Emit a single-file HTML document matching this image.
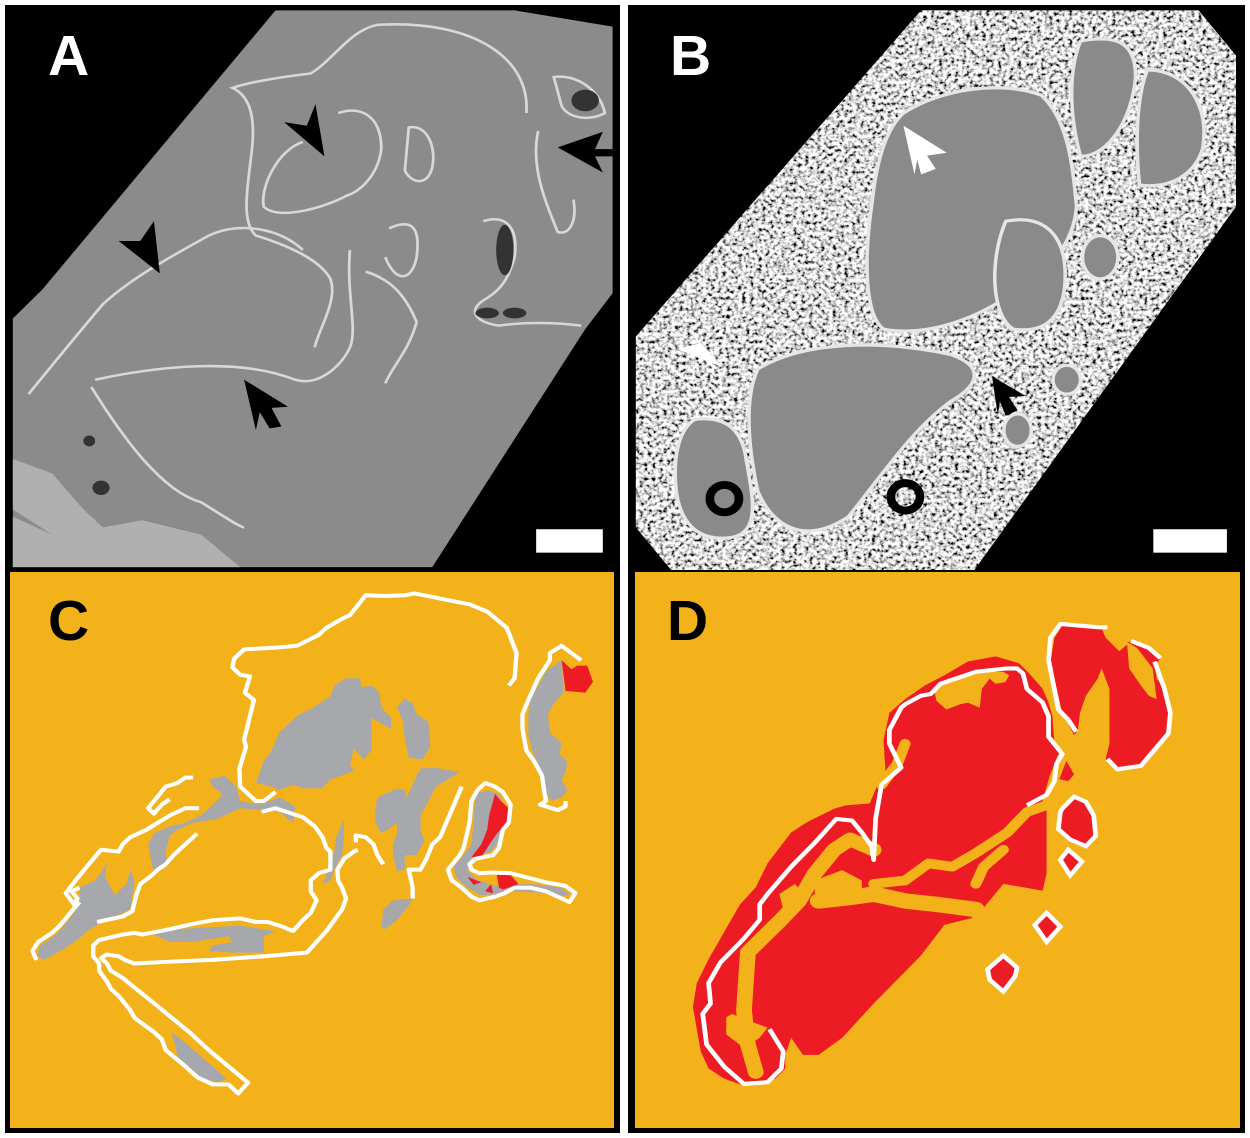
<!DOCTYPE html>
<html><head><meta charset="utf-8"><style>
html,body{margin:0;padding:0;background:#fff;}
svg{display:block;}
text{font-family:"Liberation Sans",Arial,sans-serif;font-weight:bold;}
</style></head><body>
<svg width="1250" height="1138" viewBox="0 0 1250 1138">
<defs>
<filter id="spk" x="0" y="0" width="1" height="1" filterUnits="objectBoundingBox">
<feTurbulence type="fractalNoise" baseFrequency="0.1" numOctaves="2" seed="5" result="n"/>
<feColorMatrix in="n" type="matrix" values="3 0 0 0 -0.8  3 0 0 0 -0.8  3 0 0 0 -0.8  0 0 0 0 1" result="g"/>
<feComposite in="g" in2="SourceGraphic" operator="in"/>
</filter>
</defs>

<rect x="5" y="5" width="615" height="1128" fill="#000"/>
<rect x="628" y="5" width="617" height="1128" fill="#000"/>

<!-- Panel A -->
<g transform="translate(5,5) scale(0.392,0.3603)">
<polygon points="690,15 1300,15 1550,60 1550,800 1480,900 1090,1560 20,1560 20,870 95,790" fill="#8b8b8b"/>
<polygon points="20,1260 120,1300 200,1400 250,1450 350,1430 500,1470 600,1560 20,1560 20,1420 120,1470 20,1400" fill="#b0b0b0"/>
<g fill="none" stroke="#d8d8d8" stroke-width="7">
<path d="M1330,300 C1340,150 1200,40 950,55 C880,70 840,150 780,190 C700,200 620,215 580,230 C620,250 640,300 630,400 C620,500 600,600 640,640 C700,660 800,700 830,760 C850,820 800,900 790,950"/>
<path d="M60,1080 C120,1000 180,920 250,830 C320,760 420,700 520,640 C600,600 700,620 760,680"/>
<path d="M220,1060 C300,1200 400,1350 500,1380 C560,1420 600,1450 610,1450"/>
<path d="M230,1040 C400,1000 600,980 740,1040 C800,1060 860,1000 880,950 C900,900 870,800 880,680"/>
<path d="M1400,200 C1460,190 1520,240 1530,300 C1500,320 1440,320 1420,280 Z"/>
<path d="M1360,350 C1340,450 1380,550 1410,630 C1440,640 1460,600 1450,540"/>
<path d="M1220,600 C1280,580 1310,620 1300,700 C1280,780 1250,800 1220,820 C1180,850 1200,880 1260,890 C1320,880 1400,880 1470,890"/>
<path d="M850,300 C900,280 960,300 960,400 C950,480 900,520 870,530 C820,560 700,600 660,560 C650,500 700,400 760,380"/>
<path d="M1030,340 C1080,330 1100,400 1090,450 C1080,500 1040,500 1020,460 Z"/>
<path d="M980,620 C1040,590 1060,620 1050,700 C1040,760 1000,780 970,700"/>
<path d="M920,740 C980,760 1020,800 1050,880 C1030,960 990,1000 970,1050"/>
</g>
<g fill="#333">
<ellipse cx="1480" cy="265" rx="35" ry="30"/>
<ellipse cx="1275" cy="680" rx="22" ry="70"/>
<ellipse cx="1230" cy="855" rx="30" ry="15"/>
<ellipse cx="1300" cy="855" rx="30" ry="15"/>
<ellipse cx="215" cy="1210" rx="15" ry="15"/>
<ellipse cx="245" cy="1340" rx="22" ry="20"/>
</g>
<g fill="#000">
<polygon points="815,420 712,325 770,335 792,275"/>
<polygon points="395,745 290,655 345,655 380,600"/>
<polygon points="1410,395 1525,352 1505,400 1550,400 1550,420 1505,420 1525,465"/>
<polygon points="610,1040 722,1115 680,1118 705,1170 675,1175 650,1130 640,1180"/>
</g>
<rect x="1355" y="1455" width="170" height="65" fill="#fff"/>
</g>
<text x="48" y="75" font-size="57" fill="#fff">A</text>

<!-- Panel B -->
<g transform="translate(628,5) scale(0.3935,0.3603)">
<polygon points="745,15 1450,15 1545,140 1545,560 880,1568 110,1568 20,1450 20,920" fill="#888"/>
<polygon points="745,15 1450,15 1545,140 1545,560 880,1568 110,1568 20,1450 20,920" fill="#fff" filter="url(#spk)"/>
<g fill="#8a8a8a" stroke="#e6e6e6" stroke-width="9">
<path d="M700,300 C800,230 950,210 1050,250 C1120,320 1130,450 1140,560 C1130,680 1050,760 950,820 C860,880 750,920 650,900 C600,860 600,700 620,550 C630,450 650,350 700,300 Z"/>
<path d="M330,1010 C450,930 650,930 820,970 C900,1000 900,1050 820,1100 C720,1180 650,1300 560,1420 C450,1500 370,1450 330,1350 C300,1200 300,1080 330,1010 Z"/>
<path d="M1150,100 C1250,80 1290,110 1290,200 C1280,320 1220,420 1150,420 C1120,300 1120,180 1150,100 Z"/>
<path d="M1320,180 C1420,180 1480,280 1460,400 C1440,470 1380,510 1300,500 C1290,400 1290,260 1320,180 Z"/>
<path d="M170,1150 C250,1140 290,1180 300,1260 C320,1380 340,1480 240,1480 C150,1480 120,1400 120,1300 C120,1220 140,1170 170,1150 Z"/>
<path d="M960,600 C1060,580 1120,640 1110,780 C1100,880 1050,910 980,900 C920,860 920,700 960,600 Z"/>
<ellipse cx="1200" cy="700" rx="45" ry="60"/>
<ellipse cx="1115" cy="1040" rx="35" ry="40"/>
<ellipse cx="990" cy="1180" rx="35" ry="45"/>
</g>
<g fill="#fff">
<polygon points="700,335 810,410 760,418 782,455 745,470 735,430 728,470"/>
<polygon points="240,1005 125,955 180,940 150,895"/>
</g>
<polygon points="925,1030 1010,1085 968,1088 990,1125 960,1140 945,1100 940,1140" fill="#000"/>
<ellipse cx="245" cy="1370" rx="37" ry="38" fill="none" stroke="#000" stroke-width="22"/>
<ellipse cx="705" cy="1365" rx="37" ry="38" fill="none" stroke="#000" stroke-width="22"/>
<rect x="1335" y="1455" width="187" height="65" fill="#fff"/>
</g>
<text x="670" y="75" font-size="57" fill="#fff">B</text>

<!-- Panel C -->
<rect x="10" y="572" width="604" height="556" fill="#F4B21A"/>
<g transform="translate(5,570) scale(0.392,0.361)">
<g fill="#a7a8ab">
<polygon points="640,590 660,530 680,500 700,450 750,400 780,385 830,350 840,320 870,300 905,300 910,325 935,320 955,340 960,380 985,410 985,440 935,410 935,500 915,525 890,495 880,540 890,555 870,565 830,580 810,605 760,605 735,595 700,610 680,600"/>
<polygon points="1000,380 1020,355 1040,370 1050,400 1080,420 1085,490 1065,525 1030,520 1020,470 1015,420"/>
<polygon points="950,630 1000,605 1020,610 1025,630 1050,570 1060,550 1100,548 1160,560 1100,600 1080,640 1060,680 1060,720 1070,750 1050,790 1020,790 1020,830 1000,835 990,790 990,760 1000,730 1000,700 975,720 960,730 945,700 945,660"/>
<polygon points="960,990 965,940 990,915 1040,910 1030,930 1000,970 970,995"/>
<polygon points="810,870 830,820 840,780 845,740 865,690 865,740 860,790 840,830 830,860"/>
<polygon points="520,580 560,570 590,600 600,640 650,650 700,630 740,655 735,700 700,670 600,660 540,690 480,700 440,720 420,735 410,780 415,820 380,840 370,790 365,760 380,730 420,710 460,700 500,680 540,640 555,620 530,600"/>
<polygon points="190,880 230,860 250,830 260,810 255,850 280,900 310,870 320,830 330,860 325,900 320,940 280,960 240,980 210,1000 190,1020 150,1050 100,1080 80,1070 90,1040 130,1010 170,960 190,920"/>
<polygon points="380,1010 430,995 600,985 690,1000 660,1015 660,1060 580,1060 520,1055 530,1040 580,1030 570,1015 480,1030 420,1030"/>
<polygon points="425,1280 460,1310 530,1375 565,1410 540,1420 500,1405 440,1350 435,1320"/>
<polygon points="1340,360 1380,280 1420,250 1425,340 1400,370 1385,400 1390,450 1420,480 1415,510 1435,530 1430,560 1420,580 1435,610 1420,630 1395,640 1380,620 1375,580 1360,540 1345,500 1335,460 1335,400"/>
<polygon points="1200,620 1230,610 1260,620 1280,670 1275,720 1255,760 1240,780 1210,790 1195,805 1180,830 1195,850 1210,860 1235,870 1270,880 1300,870 1350,870 1420,880 1440,900 1420,905 1380,895 1300,890 1250,900 1210,900 1180,880 1150,850 1145,820 1170,790 1190,760 1195,700"/>
</g>
<g fill="#ED1C24">
<polygon points="1420,250 1445,275 1460,265 1485,265 1500,310 1480,340 1430,335"/>
<polygon points="1240,660 1250,620 1265,640 1290,665 1290,690 1255,730 1230,770 1215,795 1190,795 1215,760 1230,720 1235,680"/>
<polygon points="1255,845 1290,845 1310,870 1270,885 1260,880"/>
<polygon points="1180,850 1215,865 1195,872"/>
<polygon points="1225,890 1240,870 1245,895"/>
</g>
<g fill="none" stroke="#fff" stroke-width="11" stroke-linejoin="round">
<polyline points="1285,320 1300,300 1305,230 1280,160 1230,115 1185,95 1160,90 1045,65 1020,70 970,72 920,70 880,125 860,135 820,160 800,180 745,210 690,215 610,220 585,245 580,270 600,290 625,295 612,340 635,360 610,470 615,490 598,550 600,600 640,640 660,640 690,615"/>
<polyline points="655,670 690,660 760,685 790,710 810,740 820,770 830,780 830,830 800,840 780,860 780,890 795,915 780,950 760,970 735,1000 700,985 670,975 640,975 600,965 530,970 480,980 440,990 420,995 350,1010 330,1005 300,1010 240,1025 225,1040 225,1070 240,1090 240,1110 260,1140 270,1160 290,1180 320,1220 330,1240 380,1280 400,1300 410,1330 460,1375 490,1405 530,1425 570,1425 595,1450 620,1420 520,1330 470,1280 380,1200 300,1130 270,1110 260,1090 245,1075 260,1065 290,1070 305,1080 330,1090 420,1085 530,1080 660,1070 770,1060 820,1000 860,940 870,910 860,880 850,860 848,830 865,800 890,780 900,775"/>
<polyline points="480,575 460,575 440,590 410,600 380,640 365,660 380,675 400,650 420,635"/>
<polyline points="495,660 460,660 420,680 360,720 320,740 300,760 290,780 245,775 210,820 180,860 155,895 175,925 185,910 170,890 190,880"/>
<polyline points="190,920 170,945 140,985 120,1005 85,1030 70,1055 80,1080"/>
<polyline points="235,975 300,960 325,945 335,900 345,870 370,850 390,830 410,815 430,790 490,730"/>
<polyline points="1165,600 1110,740 1090,760 1075,800 1060,830 1030,830 1040,880 1040,910"/>
<polyline points="895,755 895,735 920,740 940,760 950,790 965,815"/>
<polyline points="1470,250 1420,210 1390,230 1390,250 1360,300 1335,360 1320,400 1320,440 1330,500 1350,530 1370,570 1375,610 1380,640 1365,650 1410,665 1430,655 1430,640"/>
<polygon points="1250,600 1225,590 1205,610 1190,640 1185,700 1170,770 1160,790 1130,830 1140,860 1165,880 1190,905 1210,915 1250,905 1275,895 1300,880 1340,880 1380,890 1420,910 1440,920 1455,895 1430,875 1380,865 1290,840 1240,838 1210,840 1190,830 1185,815 1200,800 1245,790 1260,770 1270,720 1285,700 1290,650 1270,615"/>
</g>
</g>
<text x="48" y="640" font-size="57" fill="#000">C</text>

<!-- Panel D -->
<rect x="635" y="572" width="605" height="556" fill="#F4B21A"/>
<g transform="translate(630,600) scale(0.393,0.342)">
<g fill="#ED1C24">
<polygon points="160,1190 170,1120 200,1050 240,970 280,890 320,840 350,770 410,680 450,650 520,610 550,600 610,595 630,540 650,500 645,410 660,330 700,290 750,250 800,220 860,180 930,165 990,185 1020,220 1050,260 1065,300 1075,340 1080,420 1110,470 1130,510 1115,530 1080,520 1060,600 1060,700 1060,800 1050,850 1000,840 950,830 900,900 880,900 870,930 800,950 740,1040 620,1180 540,1280 480,1330 440,1330 410,1280 395,1330 395,1370 370,1400 290,1420 240,1400 200,1370 180,1320"/>
<polygon points="1080,110 1100,75 1200,82 1210,110 1240,130 1280,120 1330,145 1350,170 1335,195 1340,230 1360,260 1370,300 1370,380 1340,430 1300,485 1230,490 1210,465 1220,420 1220,260 1200,200 1190,230 1160,280 1145,330 1140,380 1130,395 1100,330 1090,280 1070,180"/>
</g>
<g fill="none" stroke="#F4B21A" stroke-linejoin="round" stroke-linecap="round">
<polyline stroke-width="40" points="320,1380 300,1300 290,1200 300,1030 380,940 430,880 470,800 520,730 560,700 620,730"/>
<polyline stroke-width="45" points="480,880 560,870 620,860 700,880 780,890 880,905"/>
<polyline stroke-width="28" points="620,830 700,820 760,770 820,780 880,740 960,680 1010,620 1060,600"/>
<polyline stroke-width="26" points="1060,600 1080,520 1100,460"/>
<polyline stroke-width="28" points="640,540 680,480 700,420"/>
<polyline stroke-width="28" points="880,830 900,780 950,730"/>
</g>
<g fill="#F4B21A">
<polygon points="775,270 810,230 870,210 950,210 965,220 955,240 930,245 915,230 895,260 890,315 860,300 840,305 805,320 780,295"/>
<polygon points="1210,110 1245,150 1265,130 1270,200 1300,250 1320,280 1340,290 1330,200 1290,140 1260,120"/>
<polygon points="470,820 540,790 590,820 590,850 530,860 510,890 470,885"/>
<polygon points="380,860 420,830 440,860 430,890 390,905"/>
<polygon points="245,1220 260,1210 300,1230 350,1250 330,1280 290,1310 245,1270"/>
</g>
<g fill="#ED1C24" stroke="#fff" stroke-width="12">
<polygon points="1100,610 1130,575 1160,590 1180,630 1185,690 1160,720 1120,700 1090,670 1095,620"/>
<polygon points="1095,760 1115,730 1150,765 1120,805"/>
<polygon points="1030,950 1060,915 1095,955 1060,1000"/>
<polygon points="910,1080 950,1040 985,1075 980,1100 950,1145 915,1110"/>
</g>
<g fill="none" stroke="#fff" stroke-width="12" stroke-linejoin="round">
<polyline points="355,1255 390,1320 385,1370 350,1410 290,1415 240,1365 195,1300 185,1210 205,1180 200,1120 230,1060 290,990 330,935 330,890 350,860 410,780 470,710 525,640 565,645 590,680 615,720 620,760 625,640 640,540 690,490 660,420 660,380 690,315 700,305 740,280 765,275 790,245 880,210 960,200 985,200 1000,215 1010,260 1050,300 1065,340 1065,400 1100,450 1085,480 1080,530 1060,570 1010,600"/>
<polyline points="1215,80 1195,80 1095,70 1070,110 1065,175 1090,320 1115,350 1135,385"/>
<polyline points="1215,465 1240,495 1300,485 1370,390 1375,330 1360,260 1335,180"/>
<polyline points="1275,120 1320,140 1350,170"/>
</g>
</g>
<text x="667" y="640" font-size="57" fill="#000">D</text>
</svg>
</body></html>
